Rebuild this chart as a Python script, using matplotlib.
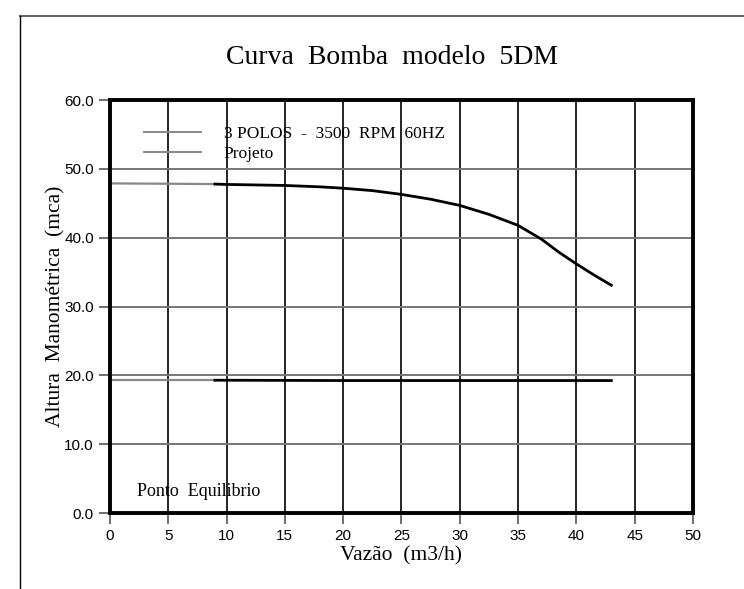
import matplotlib.pyplot as plt
from matplotlib.lines import Line2D

# pump curve (3 POLOS - 3500 RPM 60HZ)
vazao = [0, 5, 9, 10, 15, 18, 20, 22.5, 25, 27.5, 30, 32.5, 35, 37, 38.5, 40, 41.5, 43]
altura = [47.9, 47.85, 47.8, 47.75, 47.6, 47.4, 47.2, 46.85, 46.3, 45.6, 44.7, 43.4,
          41.8, 39.8, 37.9, 36.2, 34.6, 33.1]

# projeto line
vazao_proj = [0, 9, 20, 30, 43]
altura_proj = [19.3, 19.3, 19.25, 19.25, 19.25]

xticks = list(range(0, 55, 5))
yticks = [0, 10, 20, 30, 40, 50, 60]

fig = plt.figure(figsize=(7.44, 5.89), dpi=100)
ax = fig.add_axes([0.1478, 0.129, 0.7836, 0.701])

# gray part at low flow, black part for the rest
ax.plot(vazao[:3], altura[:3], color='#888888', lw=1.6)
ax.plot(vazao[2:], altura[2:], color='black', lw=2)
ax.plot(vazao_proj[:2], altura_proj[:2], color='#888888', lw=1.6)
ax.plot(vazao_proj[1:], altura_proj[1:], color='black', lw=2)

ax.set_xlim(0, 50)
ax.set_ylim(0, 60)
ax.set_xticks(xticks)
ax.set_yticks(yticks)
ax.set_yticklabels(['%.1f' % v for v in yticks])

ax.grid(axis='x', color='black', lw=1.2)
ax.grid(axis='y', color='#777777', lw=1.4)
ax.set_axisbelow(True)
for s in ax.spines.values():
    s.set_linewidth(2.8)
ax.tick_params(axis='both', length=8, width=1.2, color='#555555', labelsize=11)
for lab in ax.get_xticklabels() + ax.get_yticklabels():
    lab.set_family('Liberation Sans')

ax.set_title('Curva  Bomba  modelo  5DM', family='Liberation Serif', fontsize=20, pad=26, x=0.484)
ax.set_xlabel('Vazão  (m3/h)', family='Liberation Serif', fontsize=15.5, labelpad=2)
ax.set_ylabel('Altura  Manométrica  (mca)', family='Liberation Serif', fontsize=15.5)
ax.yaxis.set_label_coords(-0.077, 0.5)

# legend drawn like the original (gray lines, no frame)
h1 = Line2D([], [], color='#888888', lw=1.4)
h2 = Line2D([], [], color='#888888', lw=1.4)
ax.legend([h1, h2], ['3 POLOS  -  3500  RPM  60HZ', 'Projeto'], loc='upper left',
          bbox_to_anchor=(0.031, 0.975), frameon=False, handlelength=3.3, handletextpad=1.3,
          labelspacing=0.2, prop={'family': 'Liberation Serif', 'size': 12.5})

ax.text(2.3, 2.5, 'Ponto  Equilibrio', family='Liberation Serif', fontsize=13, va='baseline')

# page frame
fig.add_artist(Line2D([20/744, 1], [1 - 16/589, 1 - 16/589], color='#666666', lw=1.5))
fig.add_artist(Line2D([20/744, 20/744], [0, 1 - 16/589], color='black', lw=1.0))

plt.savefig('out.png', dpi=100)
